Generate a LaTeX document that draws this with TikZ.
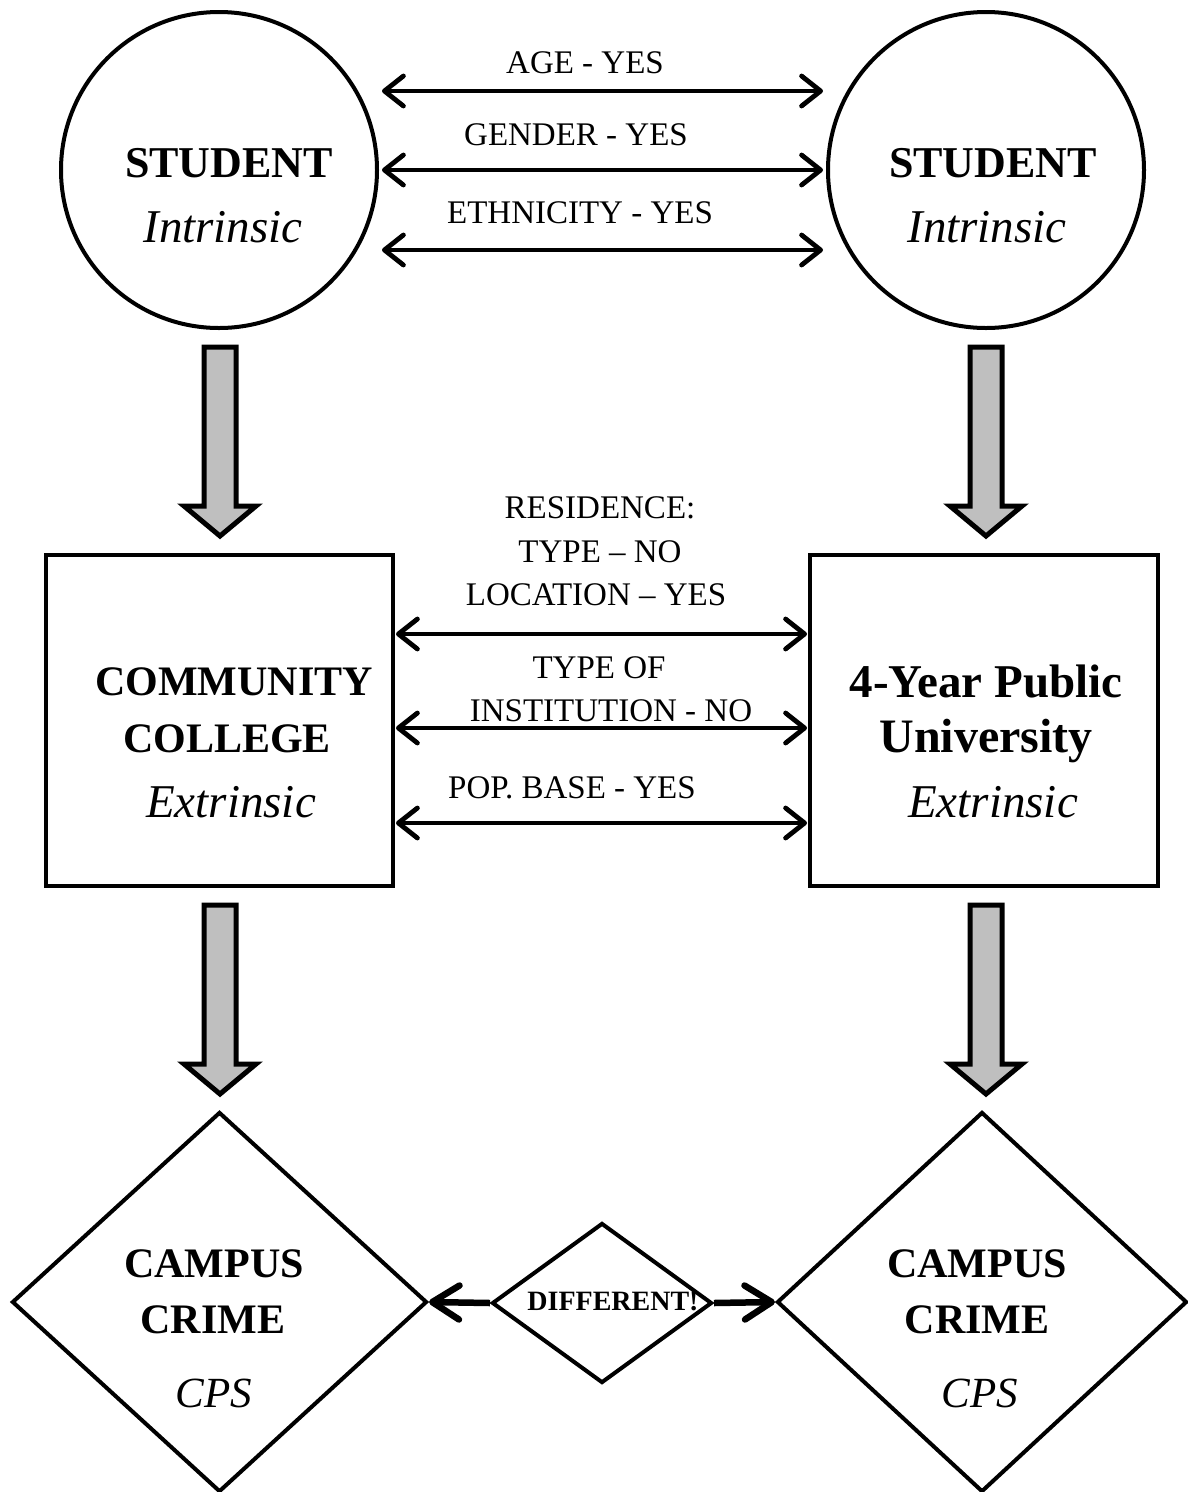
\documentclass[tikz,border=0pt]{standalone}
\usepackage{fontspec}
\setmainfont{Liberation Serif}
\usetikzlibrary{arrows.meta,shapes.geometric,calc}
\begin{document}
\begin{tikzpicture}[x=1pt,y=-1pt,
  shp/.style={draw, line width=4pt, inner sep=0pt, fill=white},
  circ/.style={shp, circle, minimum size=316pt},
  boxn/.style={shp, rectangle, minimum height=331pt},
  dia/.style={shp, diamond},
  lbl/.style={anchor=base, inner sep=0pt, font=\fontsize{33}{36}\selectfont},
  bft/.style={anchor=base, inner sep=0pt, font=\bfseries\fontsize{#1}{#1}\selectfont},
  bft/.default=42,
  itt/.style={anchor=base, inner sep=0pt, font=\itshape\fontsize{#1}{#1}\selectfont},
  itt/.default=47,
  dbl/.style={line width=4.8pt, {Straight Barb[round,length=19pt,width=30pt]}-{Straight Barb[round,length=19pt,width=30pt]}},
  bigdbl/.style={line width=6.5pt, -{Straight Barb[round,length=27pt,width=34pt]}},
  blk/.style={draw, line width=5pt, fill=black!25, miter limit=10}
]
\useasboundingbox (0,0) rectangle (1188,1492);
\fill[white] (0,0) rectangle (1188,1492);

\newcommand\blockarr[3]{%
  \filldraw[blk] ({#1-16},#2) -- ({#1+16},#2) -- ({#1+16},{#3-30}) -- ({#1+36},{#3-30})
    -- (#1,#3) -- ({#1-36},{#3-30}) -- ({#1-16},{#3-30}) -- cycle;}

% circles
\node[circ] (s1) at (219,170) {};
\node[circ] (s2) at (986,170) {};
\node[bft=44] (s1a) at (229,177) {STUDENT};
\node[itt] (s1b) at (223,242) {Intrinsic};
\node[bft=44] (s2a) at (993,177) {STUDENT};
\node[itt] (s2b) at (987,242) {Intrinsic};

% top connectors
\draw[dbl] ($(s1.center)+(163,-79)$) -- ($(s2.center)+(-163,-79)$);
\draw[dbl] ($(s1.center)+(163,0)$) -- ($(s2.center)+(-163,0)$);
\draw[dbl] ($(s1.center)+(163,80)$) -- ($(s2.center)+(-163,80)$);
\node[lbl] (t1) at (585,73) {AGE - YES};
\node[lbl] (t2) at (576,145) {GENDER - YES};
\node[lbl] (t3) at (580,223) {ETHNICITY - YES};

% block arrows
\blockarr{220}{347}{536}
\blockarr{986}{347}{536}
\blockarr{220}{905}{1094}
\blockarr{986}{905}{1094}

% boxes
\node[boxn, minimum width=347pt] (b1) at (219.5,720.5) {};
\node[boxn, minimum width=348pt] (b2) at (984,720.5) {};
\node[bft] (b1a) at (234,695) {COMMUNITY};
\node[bft] (b1b) at (227,752) {COLLEGE};
\node[itt] (b1c) at (231,817) {Extrinsic};
\node[bft=47] (b2a) at (986,697) {4-Year Public};
\node[bft=48] (b2b) at (986,752) {University};
\node[itt] (b2c) at (993,817) {Extrinsic};

% middle connectors
\draw[dbl] ($(b1.east)+(1,-86.5)$) -- ($(b2.west)+(-1,-86.5)$);
\draw[dbl] ($(b1.east)+(1,7.5)$) -- ($(b2.west)+(-1,7.5)$);
\draw[dbl] ($(b1.east)+(1,102.5)$) -- ($(b2.west)+(-1,102.5)$);
\node[lbl] (m1) at (600,518) {RESIDENCE:};
\node[lbl] (m2) at (600,562) {TYPE – NO};
\node[lbl] (m3) at (596,605) {LOCATION – YES};
\node[lbl] (m4) at (599,678) {TYPE OF};
\node[lbl] (m5) at (611,721) {INSTITUTION - NO};
\node[lbl] (m6) at (572,798) {POP. BASE - YES};

% diamonds
\node[dia, minimum width=415pt, minimum height=380pt] (d1) at (219.5,1302) {};
\node[dia, minimum width=410pt, minimum height=380pt] (d2) at (982,1302) {};
\node[dia, minimum width=220pt, minimum height=160pt] (dd) at (602,1303) {};
\node[bft] (d1a) at (214,1277) {CAMPUS};
\node[bft] (d1b) at (213,1333) {CRIME};
\node[itt=43] (d1c) at (214,1407) {CPS};
\node[bft] (d2a) at (977,1277) {CAMPUS};
\node[bft] (d2b) at (977,1333) {CRIME};
\node[itt=43] (d2c) at (980,1407) {CPS};

\draw[bigdbl] (dd.west) -- (d1.east);
\draw[bigdbl] (dd.east) -- (d2.west);
\node[bft=28] (dda) at (613,1310) {DIFFERENT!};
\end{tikzpicture}
\end{document}
